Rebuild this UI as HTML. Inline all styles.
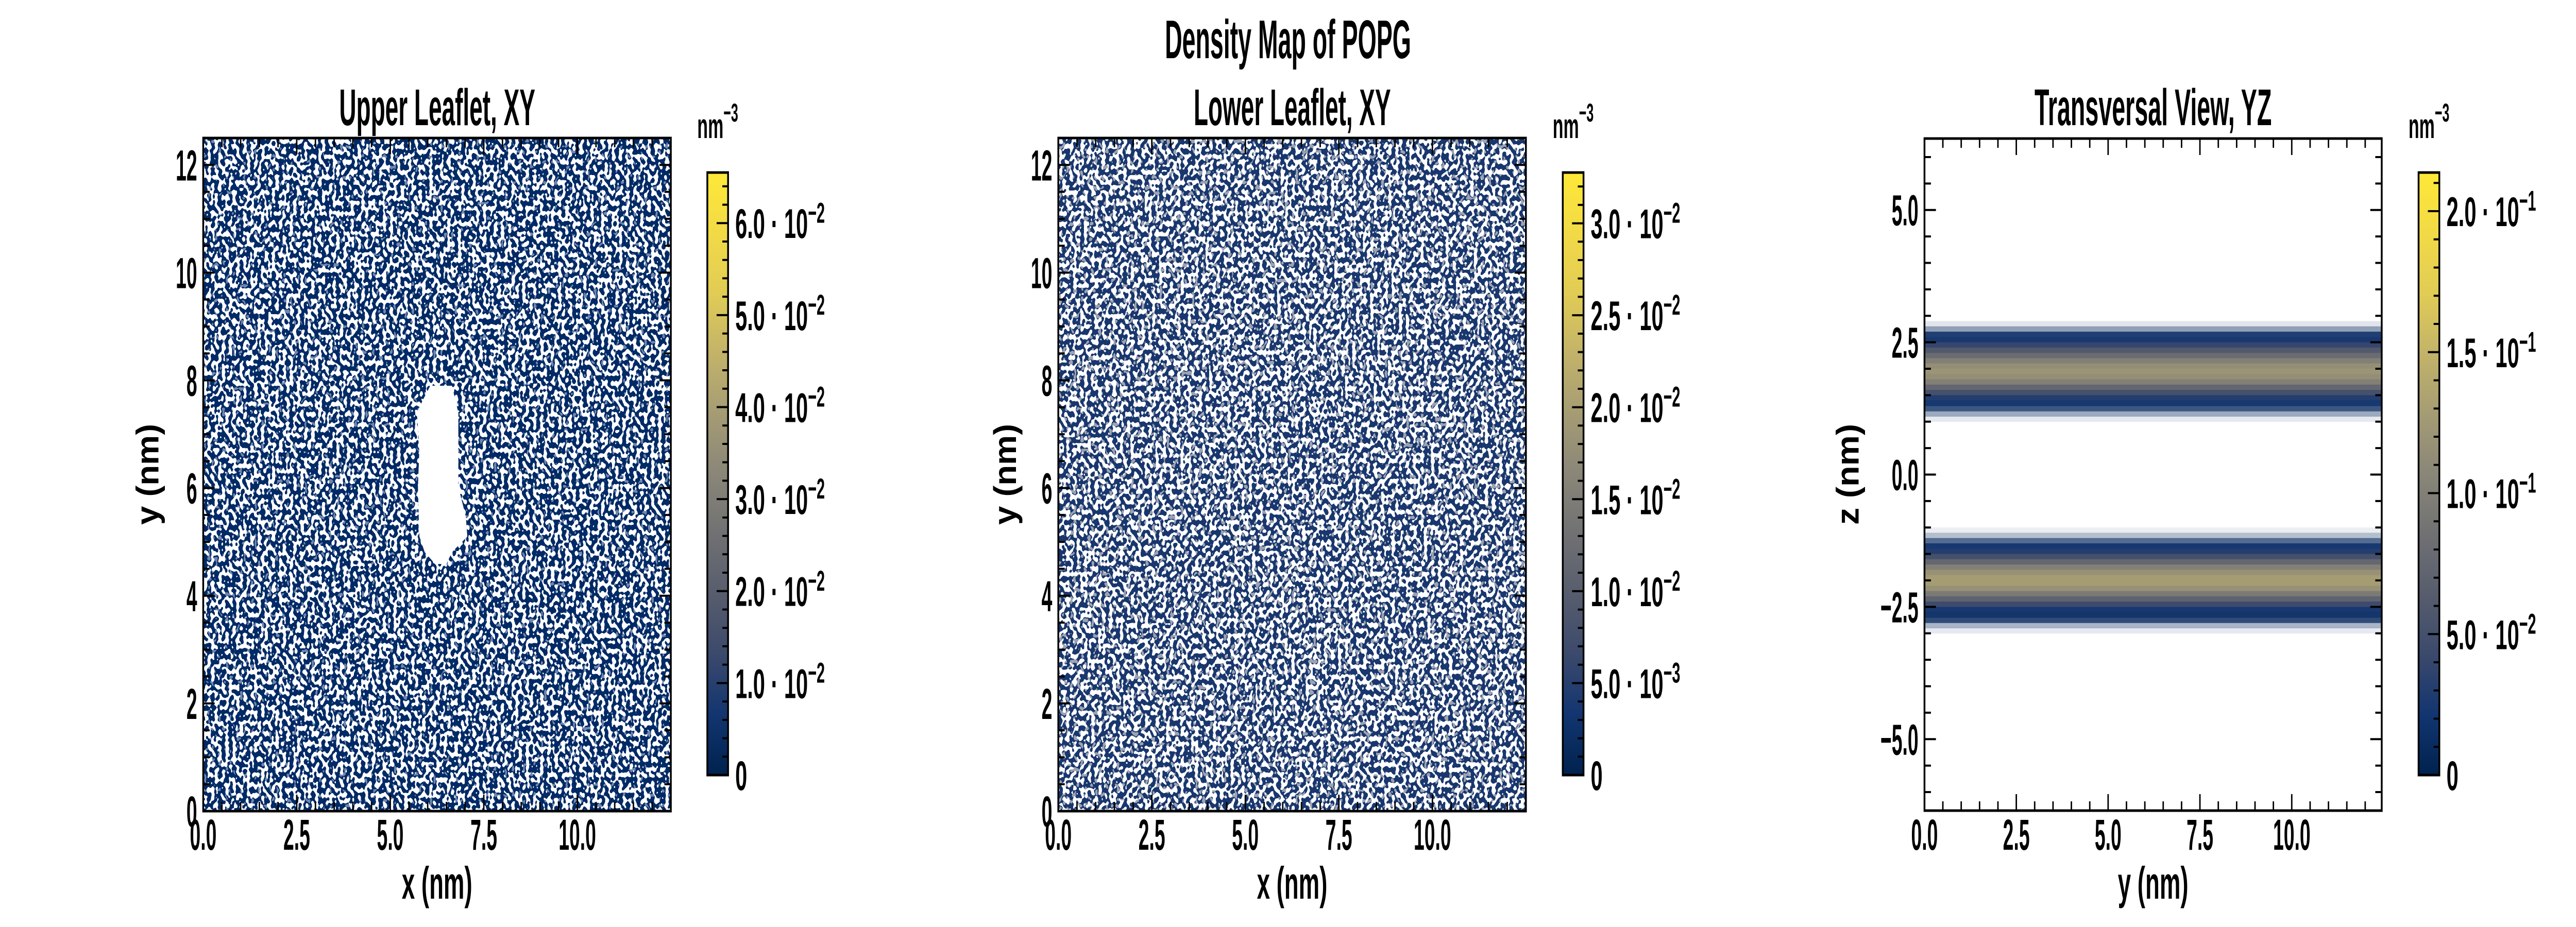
<!DOCTYPE html>
<html><head><meta charset="utf-8"><title>Density Map of POPG</title>
<style>html,body{margin:0;padding:0;background:#fff;overflow:hidden;}svg{display:block;width:100vw;height:100vh;}text{font-family:"Liberation Sans",Arial,sans-serif;font-weight:bold;fill:#000;}</style>
</head><body>
<svg id="fig" xmlns="http://www.w3.org/2000/svg" viewBox="0 0 7200 1800" preserveAspectRatio="none">
<defs>
<filter id="spk1" x="0" y="0" width="1" height="1">
<feTurbulence type="fractalNoise" baseFrequency="0.1" numOctaves="1" seed="3" result="n"/>
<feColorMatrix in="n" type="matrix" values="0 0 0 0 1 0 0 0 0 1 0 0 0 0 1 1 0 0 0 0"/>
<feComponentTransfer><feFuncA type="discrete" tableValues="0 0 0 0 0 0 0 0 0 0 0 1 1 1 1 1 1 1 1 1 1"/></feComponentTransfer>
</filter>
<filter id="spk2" x="0" y="0" width="1" height="1">
<feTurbulence type="fractalNoise" baseFrequency="0.1" numOctaves="1" seed="11" result="n"/>
<feColorMatrix in="n" type="matrix" values="0 0 0 0 1 0 0 0 0 1 0 0 0 0 1 1 0 0 0 0"/>
<feComponentTransfer><feFuncA type="discrete" tableValues="0 0 0 0 0 0 0 0 0 0 0 1 1 1 1 1 1 1 1 1 1"/></feComponentTransfer>
</filter>
<filter id="grey2" x="0" y="0" width="1" height="1">
<feTurbulence type="fractalNoise" baseFrequency="0.1" numOctaves="1" seed="27" result="n"/>
<feColorMatrix in="n" type="matrix" values="0 0 0 0 0.33 0 0 0 0 0.36 0 0 0 0 0.45 1 0 0 0 0"/>
<feComponentTransfer><feFuncA type="discrete" tableValues="0 0 0 0 0 0 0 0 0 0 0 0 1 1 1 1 1 1 1 1"/></feComponentTransfer>
</filter>
<filter id="grey1" x="0" y="0" width="1" height="1">
<feTurbulence type="fractalNoise" baseFrequency="0.1" numOctaves="1" seed="41" result="n"/>
<feColorMatrix in="n" type="matrix" values="0 0 0 0 0.16 0 0 0 0 0.24 0 0 0 0 0.42 1 0 0 0 0"/>
<feComponentTransfer><feFuncA type="discrete" tableValues="0 0 0 0 0 0 0 0 0 0 0 0 0 1 1 1 1 1 1 1"/></feComponentTransfer>
</filter>
<linearGradient id="cvd" x1="0" y1="1" x2="0" y2="0">
<stop offset="0" stop-color="#00224e"/><stop offset="0.1" stop-color="#123570"/><stop offset="0.2" stop-color="#3b496c"/><stop offset="0.3" stop-color="#575d6d"/><stop offset="0.4" stop-color="#707173"/><stop offset="0.5" stop-color="#8a8678"/><stop offset="0.6" stop-color="#a59c74"/><stop offset="0.7" stop-color="#c3b369"/><stop offset="0.8" stop-color="#e1cc55"/><stop offset="0.9" stop-color="#f2da46"/><stop offset="1" stop-color="#fee838"/>
</linearGradient>
</defs>
</svg>
<script>
// ---------- data ----------
const xTicks = [0, 2.5, 5, 7.5, 10];
const xTickLabels = ["0.0", "2.5", "5.0", "7.5", "10.0"];
const xyYTicks = [0, 2, 4, 6, 8, 10, 12];
const xyYTickLabels = ["0", "2", "4", "6", "8", "10", "12"];
const zTicks = [-5, -2.5, 0, 2.5, 5];
const zTickLabels = ["\u22125.0", "\u22122.5", "0.0", "2.5", "5.0"];
const cb1Ticks = [0, 0.01, 0.02, 0.03, 0.04, 0.05, 0.06];
const cb1Mant = ["0", "1.0", "2.0", "3.0", "4.0", "5.0", "6.0"];
const cb1Exp = ["", "\u22122", "\u22122", "\u22122", "\u22122", "\u22122", "\u22122"];
const cb2Ticks = [0, 0.005, 0.01, 0.015, 0.02, 0.025, 0.03];
const cb2Mant = ["0", "5.0", "1.0", "1.5", "2.0", "2.5", "3.0"];
const cb2Exp = ["", "\u22123", "\u22122", "\u22122", "\u22122", "\u22122", "\u22122"];
const cb3Ticks = [0, 0.05, 0.1, 0.15, 0.2];
const cb3Mant = ["0", "5.0", "1.0", "1.5", "2.0"];
const cb3Exp = ["", "\u22122", "\u22121", "\u22121", "\u22121"];
// empty region (pore) in upper leaflet: y (nm), left/right x (nm)
const holeY = [7.9, 7.66, 7.4, 6.75, 6.02, 5.47, 5.1, 4.81, 4.59];
const holeLeft = [6.07, 5.89, 5.71, 5.78, 5.74, 5.76, 5.78, 5.92, 6.2];
const holeRight = [6.65, 6.73, 6.82, 6.82, 6.82, 7.02, 7.06, 6.65, 6.5];
// transversal profile: z bin centers (nm), density (nm^-3), occupancy fraction
const upperZ = [2.85, 2.75, 2.65, 2.55, 2.45, 2.35, 2.25, 2.15, 2.05, 1.95, 1.85, 1.75, 1.65, 1.55, 1.45, 1.35, 1.25, 1.15, 1.05];
const upperVal = [0.01, 0.01, 0.015, 0.025, 0.04, 0.06, 0.08, 0.1, 0.115, 0.12, 0.115, 0.1, 0.075, 0.05, 0.03, 0.018, 0.012, 0.01, 0.01];
const upperOcc = [0.12, 0.45, 0.92, 1, 1, 1, 1, 1, 1, 1, 1, 1, 1, 1, 1, 0.97, 0.8, 0.4, 0.1];
const lowerZ = [-1.05, -1.15, -1.25, -1.35, -1.45, -1.55, -1.65, -1.75, -1.85, -1.95, -2.05, -2.15, -2.25, -2.35, -2.45, -2.55, -2.65, -2.75, -2.85, -2.95];
const lowerVal = [0.01, 0.01, 0.012, 0.018, 0.03, 0.05, 0.075, 0.1, 0.118, 0.128, 0.128, 0.118, 0.095, 0.07, 0.045, 0.025, 0.015, 0.012, 0.01, 0.01];
const lowerOcc = [0.08, 0.3, 0.7, 0.97, 1, 1, 1, 1, 1, 1, 1, 1, 1, 1, 1, 1, 0.97, 0.85, 0.35, 0.1];

// ---------- helpers ----------
const NS = "http://www.w3.org/2000/svg";
const svg = document.getElementById("fig");
function mk(tag, attrs, parent) {
  const e = document.createElementNS(NS, tag);
  for (const k in attrs) e.setAttribute(k, attrs[k]);
  (parent || svg).appendChild(e);
  return e;
}
const CV = [[0,34,78],[18,53,112],[59,73,108],[87,93,109],[112,113,115],[138,134,120],[165,156,116],[195,179,105],[225,204,85],[242,218,70],[254,232,56]];
function cividis(t) {
  t = Math.max(0, Math.min(1, t)) * 10;
  const i = Math.min(9, Math.floor(t)), f = t - i;
  const c = CV[i].map((v, k) => Math.round(v + (CV[i + 1][k] - v) * f));
  return "rgb(" + c.join(",") + ")";
}
function lin(d0, d1, r0, r1) { return v => r0 + (v - d0) / (d1 - d0) * (r1 - r0); }
function txt(x, y, s, size, sx, anchor, parent, name) {
  const g = mk("g", {transform: "translate(" + x + "," + y + ") scale(" + sx + ",1)"}, parent);
  const t = mk("text", {x: 0, y: 0, "font-size": size, "text-anchor": anchor || "middle"}, g);
  t.textContent = s;
  
  
  return t;
}
function axesFrame(P, name) {
  const g = mk("g", {});
  
  
  return g;
}
function drawTicks(P, g, xMinor, xMajor, yMinor, yMajor) {
  const MJ = 32, MN = 18;
  const path = [];
  xMinor.forEach(v => { const x = P.sx(v); path.push("M"+x+","+P.y1+"v-"+MN+"M"+x+","+P.y0+"v"+MN); });
  xMajor.forEach(v => { const x = P.sx(v); path.push("M"+x+","+P.y1+"v-"+MJ+"M"+x+","+P.y0+"v"+MJ); });
  yMinor.forEach(v => { const y = P.sy(v); path.push("M"+P.x0+","+y+"h"+MN+"M"+P.x1+","+y+"h-"+MN); });
  yMajor.forEach(v => { const y = P.sy(v); path.push("M"+P.x0+","+y+"h"+MJ+"M"+P.x1+","+y+"h-"+MJ); });
  const p = mk("path", {d: path.join(""), stroke: "#000", "stroke-width": 4, fill: "none"}, g);
  
  
  const f = mk("rect", {x: P.x0, y: P.y0, width: P.x1 - P.x0, height: P.y1 - P.y0, fill: "none", stroke: "#000", "stroke-width": 5}, g);
  
  
}
function range(a, b, s) { const r = []; for (let v = a; v <= b + 1e-9; v += s) r.push(Math.round(v * 1000) / 1000); return r; }
function xAxisLabels(P, g, label) {
  xTicks.forEach((v, i) => txt(P.sx(v), 1650, xTickLabels[i], 84, 0.64, "middle", g, "x-tick-label"));
  const t = mk("text", {x: (P.x0 + P.x1) / 2, y: 1745, "font-size": 88, "text-anchor": "middle", textLength: 197, lengthAdjust: "spacingAndGlyphs"}, g);
  t.textContent = label;
  
  
}
function yAxisTitle(cx, label, g) {
  const t = mk("text", {transform: "translate(" + cx + ",921) rotate(-90)", x: 0, y: 30, "font-size": 88, "text-anchor": "middle", textLength: 196, lengthAdjust: "spacingAndGlyphs"}, g);
  t.textContent = label;
  
  
}
function panelTitle(cx, s, w, g) {
  const t = mk("text", {x: cx, y: 243, "font-size": 100, "text-anchor": "middle", textLength: w, lengthAdjust: "spacingAndGlyphs"}, g);
  t.textContent = s;
  
  
}
function colorbar(cb, ticks, mant, exps, minorStep, name) {
  const g = mk("g", {});
  
  
  const sc = lin(0, cb.max, cb.y1, cb.y0);
  const r = mk("rect", {x: cb.x0, y: cb.y0, width: cb.x1 - cb.x0, height: cb.y1 - cb.y0, fill: "url(#cvd)", stroke: "#000", "stroke-width": 5}, g);
  
  
  const d = [];
  range(0, cb.max, minorStep).forEach(v => d.push("M" + cb.x1 + "," + sc(v) + "h-16"));
  ticks.forEach(v => d.push("M" + cb.x1 + "," + sc(v) + "h-32"));
  const p = mk("path", {d: d.join(""), stroke: "#000", "stroke-width": 4}, g);
  
  
  ticks.forEach((v, i) => {
    const gg = mk("g", {transform: "translate(" + (cb.x1 + 20) + "," + (sc(v) + 29) + ") scale(0.74,1)"}, g);
    const t = mk("text", {x: 0, y: 0, "font-size": 81}, gg);
    
    
    if (exps[i]) {
      t.appendChild(document.createTextNode(mant[i] + " \u00b7 10"));
      const s = mk("tspan", {dy: -30, "font-size": 56}, t);
      s.textContent = exps[i];
    } else t.textContent = mant[i];
  });
  const u = mk("text", {x: 0, y: 0, "font-size": 68, "text-anchor": "middle"}, mk("g", {transform: "translate(" + ((cb.x0 + cb.x1) / 2) + ",268) scale(0.72,1)"}, g));
  
  
  u.appendChild(document.createTextNode("nm"));
  const s = mk("tspan", {dy: -32, "font-size": 50}, u);
  s.textContent = "\u22123";
}

// ---------- main title ----------
const mt = mk("text", {x: 3600, y: 113, "font-size": 106, "text-anchor": "middle", textLength: 688, lengthAdjust: "spacingAndGlyphs"});
mt.textContent = "Density Map of POPG";



// ---------- panel 1: upper leaflet ----------
const P1 = {x0: 568, x1: 1875, y0: 268, y1: 1575};
P1.sx = lin(0, 12.5, P1.x0, P1.x1); P1.sy = lin(0, 12.5, P1.y1, P1.y0);
const g1 = axesFrame(P1, "upper-leaflet-panel");
let hm = mk("rect", {x: P1.x0, y: P1.y0, width: P1.x1 - P1.x0, height: P1.y1 - P1.y0, fill: "#002a66"}, g1);
 
let gl = mk("rect", {x: P1.x0, y: P1.y0, width: P1.x1 - P1.x0, height: P1.y1 - P1.y0, fill: "#fff", filter: "url(#grey1)"}, g1);
 
let wl = mk("rect", {x: P1.x0, y: P1.y0, width: P1.x1 - P1.x0, height: P1.y1 - P1.y0, fill: "#fff", filter: "url(#spk1)"}, g1);
 
const holePts = [];
holeY.forEach((y, i) => holePts.push(P1.sx(holeRight[i]) + "," + P1.sy(y)));
for (let i = holeY.length - 1; i >= 0; i--) holePts.push(P1.sx(holeLeft[i]) + "," + P1.sy(holeY[i]));
const hole = mk("polygon", {points: holePts.join(" "), fill: "#fff"}, g1);
 
drawTicks(P1, g1, range(0, 12.5, 0.5), xTicks, range(0, 12.5, 0.5), xyYTicks);
xyYTicks.forEach((v, i) => txt(551, P1.sy(v) + 30, xyYTickLabels[i], 84, 0.64, "end", g1, "y-tick-label"));
xAxisLabels(P1, g1, "x (nm)");
yAxisTitle(413, "y (nm)", g1);
panelTitle(1222, "Upper Leaflet, XY", 548, g1);
colorbar({x0: 1977, x1: 2035, y0: 335, y1: 1505, max: 0.0655}, cb1Ticks, cb1Mant, cb1Exp, 0.002, "upper-colorbar");

// ---------- panel 2: lower leaflet ----------
const P2 = {x0: 2958, x1: 4265, y0: 268, y1: 1575};
P2.sx = lin(0, 12.5, P2.x0, P2.x1); P2.sy = lin(0, 12.5, P2.y1, P2.y0);
const g2 = axesFrame(P2, "lower-leaflet-panel");
hm = mk("rect", {x: P2.x0, y: P2.y0, width: P2.x1 - P2.x0, height: P2.y1 - P2.y0, fill: "#19376e"}, g2);
 
gl = mk("rect", {x: P2.x0, y: P2.y0, width: P2.x1 - P2.x0, height: P2.y1 - P2.y0, fill: "#fff", filter: "url(#grey2)"}, g2);
 
wl = mk("rect", {x: P2.x0, y: P2.y0, width: P2.x1 - P2.x0, height: P2.y1 - P2.y0, fill: "#fff", filter: "url(#spk2)"}, g2);
 
drawTicks(P2, g2, range(0, 12.5, 0.5), xTicks, range(0, 12.5, 0.5), xyYTicks);
xyYTicks.forEach((v, i) => txt(P2.x0 - 17, P2.sy(v) + 30, xyYTickLabels[i], 84, 0.64, "end", g2, "y-tick-label"));
xAxisLabels(P2, g2, "x (nm)");
yAxisTitle(2810, "y (nm)", g2);
panelTitle(3612, "Lower Leaflet, XY", 551, g2);
colorbar({x0: 4368, x1: 4426, y0: 335, y1: 1505, max: 0.03276}, cb2Ticks, cb2Mant, cb2Exp, 0.001, "lower-colorbar");

// ---------- panel 3: transversal ----------
const P3 = {x0: 5379, x1: 6657, y0: 269, y1: 1574};
P3.sx = lin(0, 12.45, P3.x0, P3.x1); P3.sy = lin(-6.35, 6.35, P3.y1, P3.y0);
const g3 = axesFrame(P3, "transversal-panel");
const cb3Max = 0.2137;
function band(zs, vals, occ, name) {
  zs.forEach((z, i) => {
    const yTop = P3.sy(z + 0.05), yBot = P3.sy(z - 0.05);
    const r = mk("rect", {x: P3.x0, y: yTop, width: P3.x1 - P3.x0, height: yBot - yTop + 0.5, fill: cividis(vals[i] / cb3Max), "fill-opacity": occ[i]}, g3);
    
    
  });
}
band(upperZ, upperVal, upperOcc, "upper-leaflet-band-bin");
band(lowerZ, lowerVal, lowerOcc, "lower-leaflet-band-bin");
drawTicks(P3, g3, range(0, 12.45, 0.5), xTicks, range(-6, 6, 0.5), zTicks);
zTicks.forEach((v, i) => txt(P3.x0 - 17, P3.sy(v) + 30, zTickLabels[i], 84, 0.64, "end", g3, "z-tick-label"));
xAxisLabels(P3, g3, "y (nm)");
yAxisTitle(5165, "z (nm)", g3);
panelTitle(6018, "Transversal View, YZ", 663, g3);
colorbar({x0: 6760, x1: 6818, y0: 335, y1: 1505, max: cb3Max}, cb3Ticks, cb3Mant, cb3Exp, 0.01, "transversal-colorbar");
</script>
</body></html>
